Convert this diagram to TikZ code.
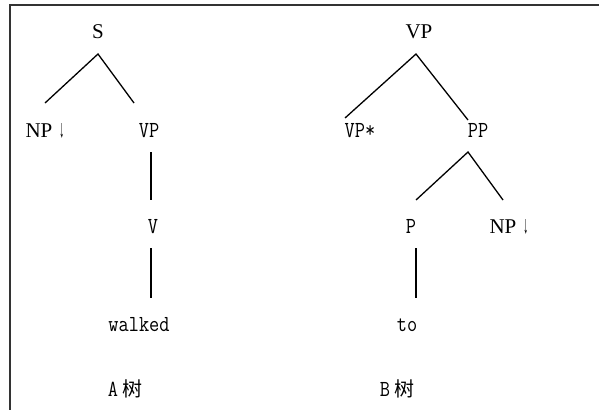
\documentclass[tikz,border=0pt]{standalone}
\usepackage{fontspec}
\usepackage{graphicx}
\setmainfont{Liberation Serif}
\newfontfamily\monof[FakeStretch=0.86]{Latin Modern Mono}
\newfontfamily\cjkf{Noto Sans CJK SC}
\newcommand{\dnarrow}{\raisebox{-0.5pt}{\resizebox{5pt}{14pt}{↓}}}
\begin{document}
\begin{tikzpicture}[x=1pt,y=-1pt,
 lbl/.style={inner sep=0pt, anchor=base, font=\fontsize{21}{21}\selectfont},
 mlbl/.style={inner sep=0pt, anchor=base, font=\monof\fontsize{23}{23}\selectfont},
 edge/.style={line width=1.3pt, black},
 frame/.style={line width=1.4pt, black!80}]
\useasboundingbox (0,0) rectangle (599,410);
% frame
\coordinate (fTL) at (10,5);
\coordinate (fTR) at (599,5);
\coordinate (fBL) at (10,410);
\draw[frame] (fTR) -- (fTL) -- (fBL);
% tree A
\node[lbl] (S) at (98,38) {S};
\node[lbl] (NPa) at (45,137) {NP\hspace{7pt}\dnarrow};
\node[mlbl] (VPa) at (149,137) {VP};
\node[mlbl] (V) at (153,233) {V};
\node[mlbl] (walked) at (139,331) {walked};
\node[mlbl] (Atree) at (125,396) {A\hspace{4pt}{\cjkf\fontsize{20}{20}\selectfont 树}};
\coordinate (Sj) at (98,54);
\coordinate (NPaj) at (45,103);
\coordinate (VPaj) at (134,103);
\coordinate (VPad) at (151,152);
\coordinate (Vu) at (151,200);
\coordinate (Vd) at (151,248);
\coordinate (walkedu) at (151,298);
\draw[edge] (NPaj) -- (Sj) -- (VPaj);
\draw[edge] (VPad) -- (Vu);
\draw[edge] (Vd) -- (walkedu);
% tree B
\node[lbl] (VPb) at (419,38) {VP};
\node[mlbl] (VPstar) at (360,137) {VP*};
\node[mlbl] (PP) at (478,137) {PP};
\node[mlbl] (P) at (411,233) {P};
\node[lbl] (NPb) at (509,233) {NP\hspace{7pt}\dnarrow};
\node[mlbl] (to) at (407,331) {to};
\node[mlbl] (Btree) at (397,396) {B\hspace{4pt}{\cjkf\fontsize{20}{20}\selectfont 树}};
\coordinate (VPbj) at (416,54);
\coordinate (VPstarj) at (345,118);
\coordinate (PPj) at (468,120);
\coordinate (PPd) at (468,152);
\coordinate (Pj) at (416,200);
\coordinate (NPbj) at (503,200);
\coordinate (Pd) at (416,248);
\coordinate (tou) at (416,298);
\draw[edge] (VPstarj) -- (VPbj) -- (PPj);
\draw[edge] (Pj) -- (PPd) -- (NPbj);
\draw[edge] (Pd) -- (tou);
\end{tikzpicture}
\end{document}
